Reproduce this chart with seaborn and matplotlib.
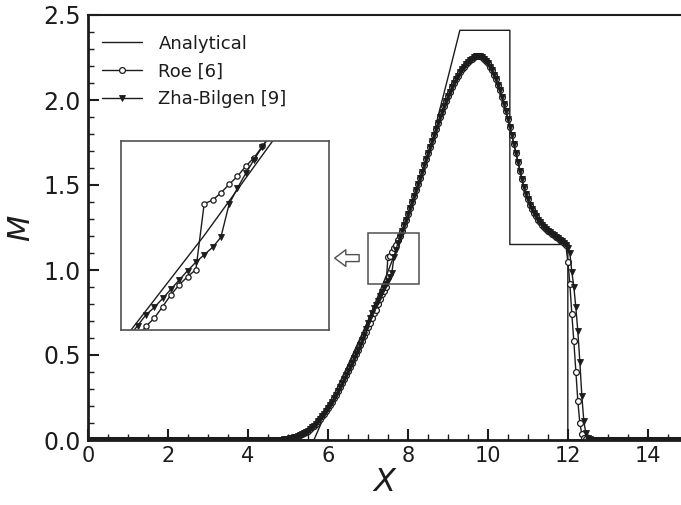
import numpy as np
import matplotlib
matplotlib.use("Agg")
import matplotlib.pyplot as plt
from matplotlib.patches import Rectangle
from matplotlib.ticker import MultipleLocator
import seaborn as sns

# ---------------- data ----------------
# Analytical solution (polyline, vertical jumps at shocks)
ana_x = [0.0, 5.65, 6.0, 6.5, 7.0, 7.5, 8.0, 8.5, 9.0, 9.3, 10.55, 10.55, 12.0, 12.0, 15.0]
ana_m = [0.0, 0.0, 0.19, 0.44, 0.70, 0.99, 1.30, 1.67, 2.13, 2.41, 2.41, 1.15, 1.15, 0.0, 0.0]

# numerical grid spacing and start of the non-zero region
dx = 0.05
x_start = 4.75
x_end = 15.0

# Roe [6]: M at x = 4.75, 4.80, ... (zero elsewhere)
roe_m = [
    0.000, 0.001, 0.002, 0.003, 0.005, 0.007, 0.009, 0.012, 0.015, 0.019,   # 4.75-5.20
    0.023, 0.028, 0.034, 0.040, 0.047, 0.055, 0.064, 0.074, 0.085, 0.097,   # 5.25-5.70
    0.110, 0.124, 0.139, 0.155, 0.172, 0.190, 0.207, 0.225, 0.245, 0.265,   # 5.75-6.20
    0.287, 0.310, 0.333, 0.357, 0.381, 0.405, 0.430, 0.455, 0.480, 0.506,   # 6.25-6.70
    0.532, 0.558, 0.584, 0.611, 0.638, 0.665, 0.690, 0.716, 0.745, 0.767,   # 6.75-7.20
    0.798, 0.830, 0.857, 0.879, 0.898, 1.076, 1.085, 1.105, 1.128, 1.150,   # 7.25-7.70
    1.177, 1.200, 1.231, 1.262, 1.297, 1.332, 1.367, 1.402, 1.437, 1.472,   # 7.75-8.20
    1.507, 1.543, 1.579, 1.615, 1.651, 1.687, 1.723, 1.759, 1.794, 1.829,   # 8.25-8.70
    1.864, 1.898, 1.931, 1.963, 1.994, 2.023, 2.050, 2.076, 2.100, 2.122,   # 8.75-9.20
    2.143, 2.162, 2.180, 2.196, 2.210, 2.222, 2.233, 2.243, 2.252, 2.258,   # 9.25-9.70
    2.260, 2.258, 2.252, 2.243, 2.231, 2.215, 2.196, 2.174, 2.149, 2.121,   # 9.75-10.20
    2.090, 2.056, 2.019, 1.979, 1.936, 1.890, 1.842, 1.792, 1.741, 1.690,   # 10.25-10.70
    1.638, 1.585, 1.535, 1.490, 1.450, 1.415, 1.385, 1.358, 1.335, 1.315,   # 10.75-11.20
    1.297, 1.281, 1.267, 1.254, 1.242, 1.231, 1.221, 1.212, 1.203, 1.195,   # 11.25-11.70
    1.187, 1.179, 1.170, 1.160, 1.145, 1.050, 0.920, 0.740, 0.580, 0.400,   # 11.75-12.20
    0.230, 0.100, 0.035, 0.012, 0.004, 0.001, 0.000, 0.000, 0.000, 0.000,   # 12.25-12.70
]

# Zha-Bilgen [9]
zb_m = [
    0.000, 0.001, 0.002, 0.003, 0.005, 0.007, 0.009, 0.012, 0.015, 0.019,   # 4.75-5.20
    0.023, 0.028, 0.034, 0.040, 0.047, 0.055, 0.064, 0.074, 0.085, 0.097,   # 5.25-5.70
    0.110, 0.124, 0.139, 0.155, 0.172, 0.190, 0.207, 0.225, 0.245, 0.265,   # 5.75-6.20
    0.287, 0.310, 0.333, 0.357, 0.381, 0.405, 0.430, 0.455, 0.480, 0.506,   # 6.25-6.70
    0.532, 0.560, 0.590, 0.620, 0.655, 0.690, 0.718, 0.747, 0.776, 0.796,   # 6.75-7.20
    0.820, 0.845, 0.870, 0.895, 0.918, 0.938, 0.958, 0.985, 1.075, 1.118,   # 7.25-7.70
    1.158, 1.195, 1.230, 1.262, 1.297, 1.332, 1.367, 1.402, 1.437, 1.472,   # 7.75-8.20
    1.507, 1.543, 1.579, 1.615, 1.651, 1.687, 1.723, 1.759, 1.794, 1.829,   # 8.25-8.70
    1.864, 1.898, 1.931, 1.963, 1.994, 2.023, 2.050, 2.076, 2.100, 2.122,   # 8.75-9.20
    2.143, 2.162, 2.180, 2.196, 2.210, 2.222, 2.233, 2.243, 2.252, 2.258,   # 9.25-9.70
    2.260, 2.258, 2.252, 2.243, 2.231, 2.215, 2.196, 2.174, 2.149, 2.121,   # 9.75-10.20
    2.090, 2.056, 2.019, 1.979, 1.936, 1.890, 1.842, 1.792, 1.741, 1.690,   # 10.25-10.70
    1.638, 1.585, 1.535, 1.490, 1.450, 1.415, 1.385, 1.358, 1.335, 1.315,   # 10.75-11.20
    1.297, 1.281, 1.267, 1.254, 1.242, 1.231, 1.221, 1.212, 1.203, 1.195,   # 11.25-11.70
    1.187, 1.179, 1.170, 1.160, 1.150, 1.130, 1.100, 0.990, 0.900, 0.780,   # 11.75-12.20
    0.640, 0.460, 0.260, 0.110, 0.040, 0.012, 0.004, 0.001, 0.000, 0.000,   # 12.25-12.70
]

labels = ["Analytical", "Roe [6]", "Zha-Bilgen [9]"]
x_ticks = [0, 2, 4, 6, 8, 10, 12, 14]
y_ticks = [0.0, 0.5, 1.0, 1.5, 2.0, 2.5]

# build full grids (M = 0 outside the active region)
def full_series(active):
    x_act = np.round(x_start + dx * np.arange(len(active)), 3)
    x_lead = np.round(np.arange(0.0, x_start - 1e-9, dx), 3)
    x_tail = np.round(np.arange(x_act[-1] + dx, x_end + 1e-9, dx), 3)
    x = np.concatenate([x_lead, x_act, x_tail])
    m = np.concatenate([np.zeros(len(x_lead)), np.array(active), np.zeros(len(x_tail))])
    return x, m

roe_x, roe_y = full_series(roe_m)
zb_x, zb_y = full_series(zb_m)

# ---------------- style ----------------
sns.set_style("ticks")
plt.rcParams["font.family"] = ["DejaVu Sans"]
ink = "#1c1c1c"

fig = plt.figure(figsize=(6.81, 5.05), dpi=100)
ax = fig.add_axes([88 / 681, 65 / 505, (681 - 88) / 681, 425 / 505])

def draw_all(a, ms_o=4.2, ms_v=4.2, leg=True):
    sns.lineplot(x=ana_x, y=ana_m, ax=a, color=ink, lw=1.0, estimator=None, sort=False,
                 label=labels[0] if leg else None)
    sns.lineplot(x=roe_x, y=roe_y, ax=a, color=ink, lw=1.0, estimator=None, sort=False,
                 marker="o", markersize=ms_o, markerfacecolor="white", markeredgecolor=ink,
                 markeredgewidth=0.9, label=labels[1] if leg else None)
    sns.lineplot(x=zb_x, y=zb_y, ax=a, color=ink, lw=1.0, estimator=None, sort=False,
                 marker="v", markersize=ms_v, markerfacecolor=ink, markeredgecolor=ink,
                 markeredgewidth=0.6, label=labels[2] if leg else None)

draw_all(ax)

ax.set_xlim(0, 14.83)
ax.set_ylim(0, 2.5)
ax.set_xticks(x_ticks)
ax.set_yticks(y_ticks)
ax.set_yticklabels([f"{v:.1f}" for v in y_ticks])
ax.xaxis.set_minor_locator(MultipleLocator(0.5))
ax.yaxis.set_minor_locator(MultipleLocator(0.1))
ax.tick_params(which="major", direction="in", length=8, width=1.5,
               colors=ink, top=False, right=False, pad=4)
ax.tick_params(axis="x", which="major", labelsize=15)
ax.tick_params(axis="y", which="major", labelsize=17, pad=5)
ax.tick_params(which="minor", direction="in", length=4, width=1.0, colors=ink,
               top=False, right=False)
for s in ["left", "bottom"]:
    ax.spines[s].set_linewidth(2.0)
    ax.spines[s].set_color(ink)
ax.spines["top"].set_linewidth(1.5)
ax.spines["top"].set_color(ink)
ax.spines["right"].set_visible(False)

ax.set_xlabel("X", fontsize=23, style="italic", color=ink, labelpad=1)
ax.set_ylabel("M", fontsize=22, style="italic", color=ink, labelpad=6)

leg = ax.legend(loc="upper left", frameon=False, fontsize=13, handlelength=2.2,
                handletextpad=0.9, labelspacing=0.55, borderaxespad=0.4,
                bbox_to_anchor=(0.0, 0.988))
for t in leg.get_texts():
    t.set_color(ink)

# zoom box on the main plot
ax.add_patch(Rectangle((7.0, 0.92), 1.28, 0.30, fill=False, edgecolor="#505050", lw=1.1, zorder=5))

# hollow arrow pointing to the inset
ax.annotate("", xy=(6.1, 1.07), xytext=(6.85, 1.07),
            arrowprops=dict(arrowstyle="simple,head_length=0.8,head_width=1.2,tail_width=0.5",
                            fc="white", ec="#505050", lw=1.0))

# inset
axin = fig.add_axes([121 / 681, 1 - 330 / 505, 208 / 681, 189 / 505])
draw_all(axin, ms_o=3.8, ms_v=3.8, leg=False)
axin.set_xlim(7.0, 8.25)
axin.set_ylim(0.735, 1.245)
axin.set_xticks([])
axin.set_yticks([])
axin.set_xlabel("")
axin.set_ylabel("")
if axin.get_legend() is not None:
    axin.get_legend().remove()
for s in axin.spines.values():
    s.set_visible(True)
    s.set_linewidth(1.2)
    s.set_color("#505050")
axin.set_facecolor("white")

fig.savefig("out.png", dpi=100)
